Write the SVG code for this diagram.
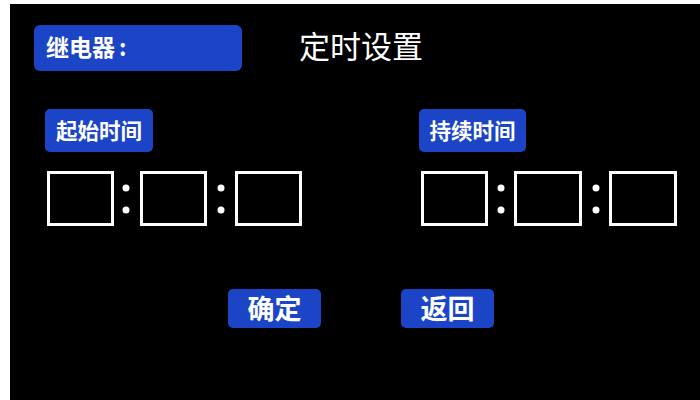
<svg xmlns="http://www.w3.org/2000/svg" width="700" height="400" viewBox="0 0 700 400">
  <style>
    .btn { fill: #1b45c6; }
    .lbl { fill: #ffffff; font-family: "Noto Sans CJK SC", "Noto Sans", sans-serif; font-weight: 700; }
    .title { fill: #ffffff; font-family: "Noto Sans CJK SC", "Noto Sans", sans-serif; font-weight: 400; font-size: 31px; }
    .box { fill: none; stroke: #ffffff; stroke-width: 3; }
    .dot { fill: #ffffff; }
  </style>
  <rect x="0" y="0" width="700" height="400" fill="#ffffff"/>
  <rect x="10" y="4" width="690" height="396" fill="#000000"/>

  <g id="relay">
    <rect class="btn" x="34" y="25" width="208" height="46" rx="6"/>
    <text class="lbl" x="46" y="56" font-size="23">继电器<tspan dx="4">:</tspan></text>
  </g>

  <g id="title">
    <text class="title" x="299" y="58">定时设置</text>
  </g>

  <g id="start-label">
    <rect class="btn" x="45" y="109" width="108" height="43" rx="5"/>
    <text class="lbl" x="99" y="139" font-size="21.5" text-anchor="middle">起始时间</text>
  </g>

  <g id="duration-label">
    <rect class="btn" x="419" y="109" width="107" height="43" rx="5"/>
    <text class="lbl" x="472.5" y="139" font-size="21.5" text-anchor="middle">持续时间</text>
  </g>

  <g id="start-time">
    <rect class="box" x="48.5" y="172.5" width="64" height="52"/>
    <circle class="dot" cx="126" cy="188" r="3.5"/>
    <circle class="dot" cx="126" cy="210" r="3.5"/>
    <rect class="box" x="141.5" y="172.5" width="64" height="52"/>
    <circle class="dot" cx="221" cy="188" r="3.5"/>
    <circle class="dot" cx="221" cy="210" r="3.5"/>
    <rect class="box" x="236.5" y="172.5" width="64" height="52"/>
  </g>

  <g id="duration-time">
    <rect class="box" x="422.5" y="172.5" width="64" height="52"/>
    <circle class="dot" cx="501" cy="188" r="3.5"/>
    <circle class="dot" cx="501" cy="210" r="3.5"/>
    <rect class="box" x="515.5" y="172.5" width="65" height="52"/>
    <circle class="dot" cx="596" cy="188" r="3.5"/>
    <circle class="dot" cx="596" cy="210" r="3.5"/>
    <rect class="box" x="610.5" y="172.5" width="65" height="52"/>
  </g>

  <g id="confirm">
    <rect class="btn" x="228" y="289" width="93" height="39" rx="5"/>
    <text class="lbl" x="274.5" y="319" font-size="27" text-anchor="middle">确定</text>
  </g>

  <g id="back">
    <rect class="btn" x="401" y="289" width="93" height="39" rx="5"/>
    <text class="lbl" x="447.5" y="319" font-size="27" text-anchor="middle">返回</text>
  </g>

  <g id="connectors"/>
</svg>
